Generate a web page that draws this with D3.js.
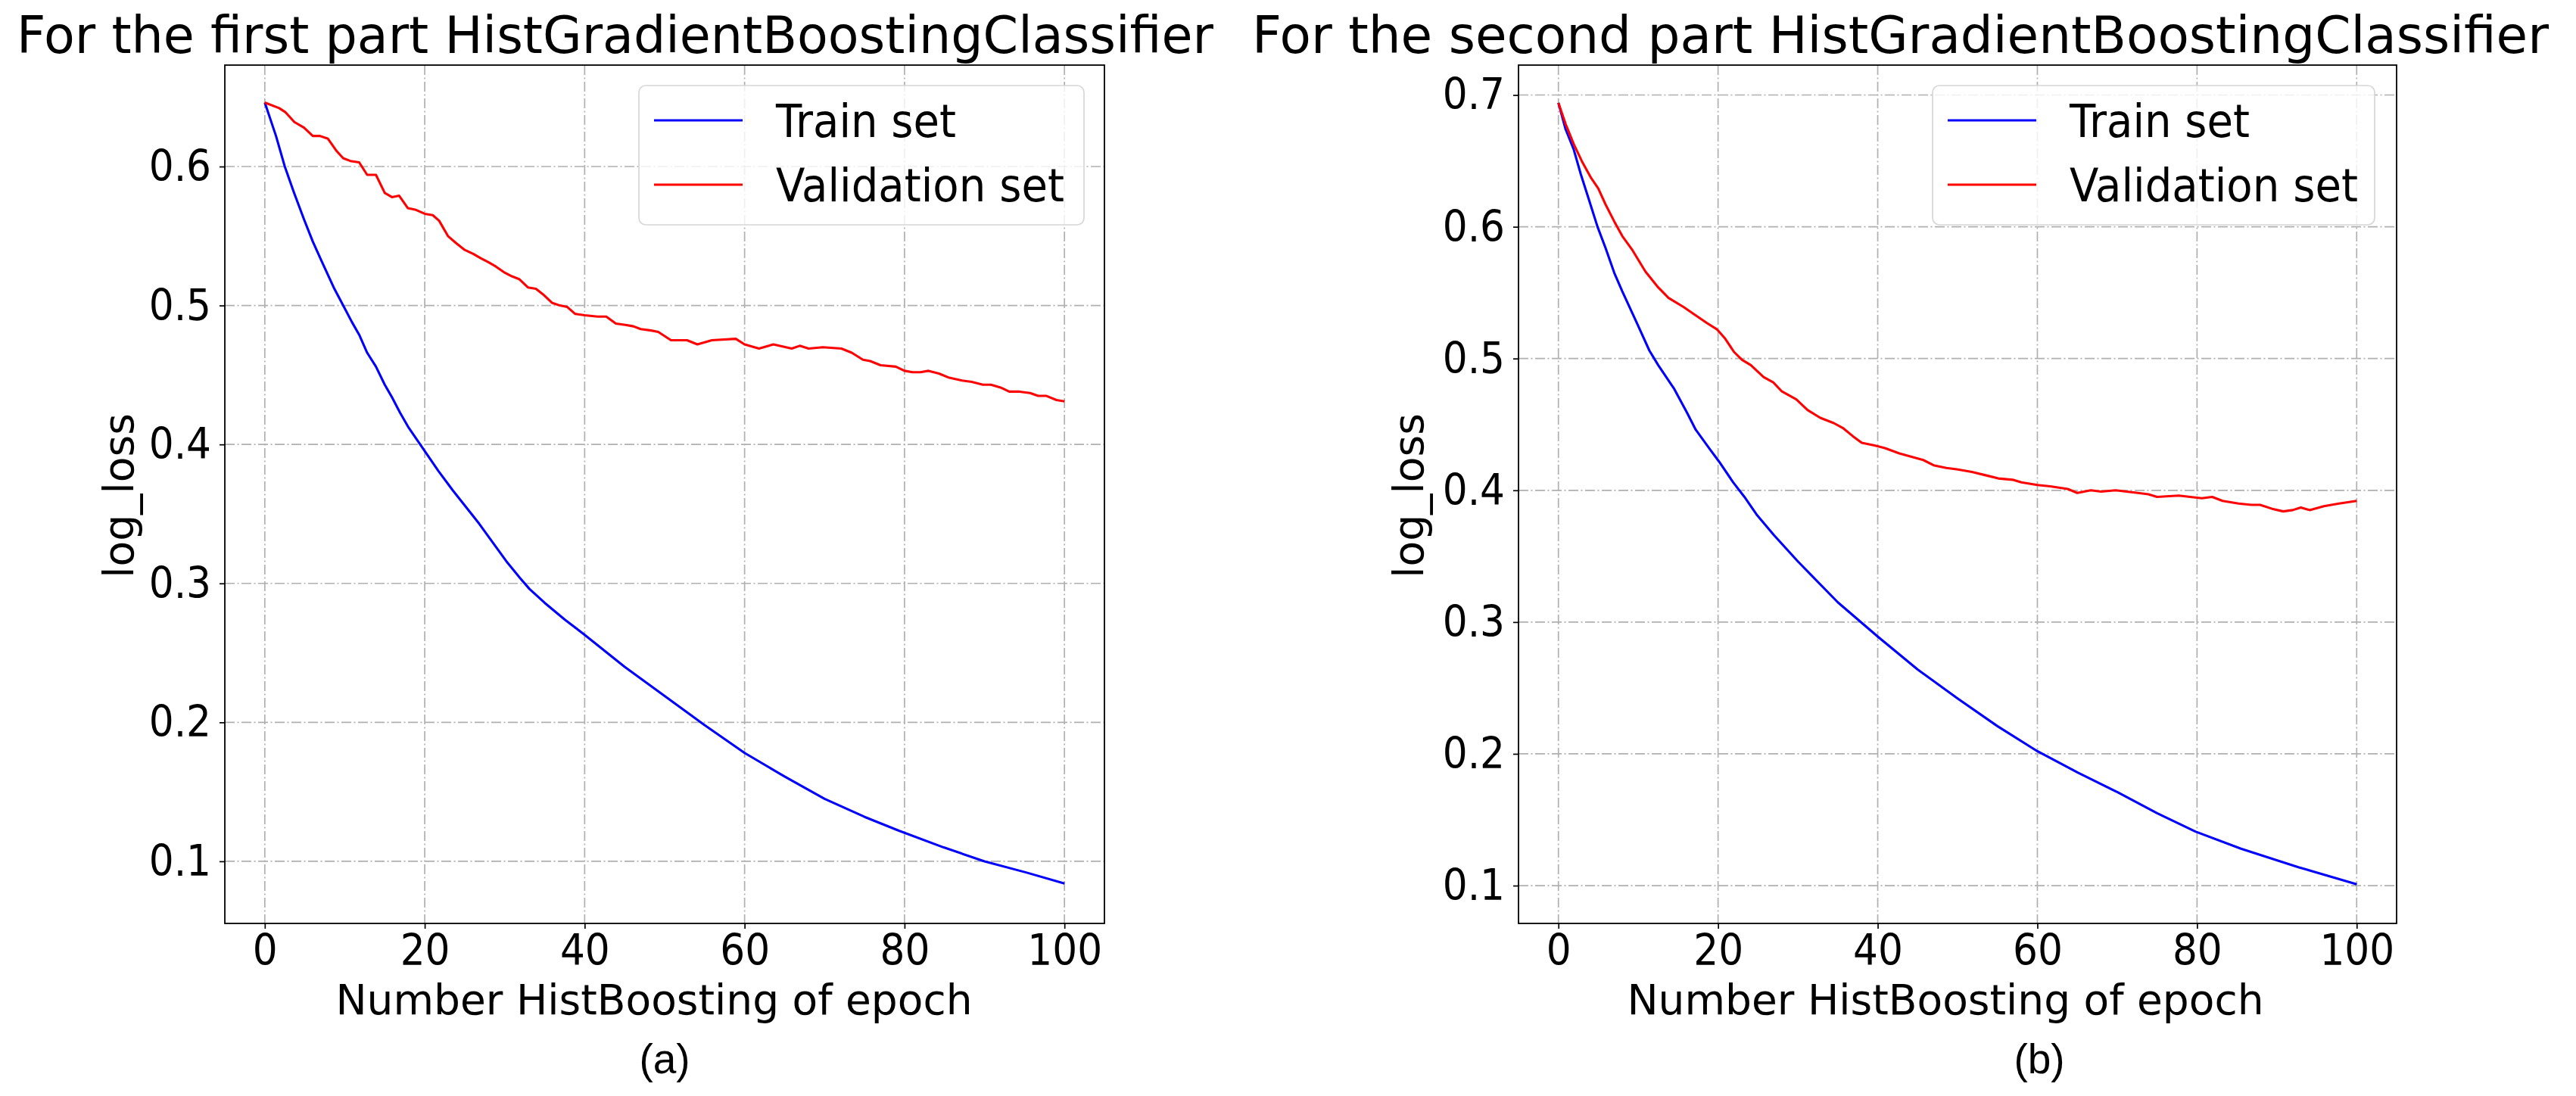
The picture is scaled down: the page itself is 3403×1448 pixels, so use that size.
<!DOCTYPE html>
<html>
<head>
<meta charset="utf-8">
<script src="https://cdn.jsdelivr.net/npm/d3@7/dist/d3.min.js"></script>
<style>
  body { margin: 0; background: #fff; }
  text { font-family: "DejaVu Sans", sans-serif; fill: #000; }
</style>
</head>
<body>
<script>
// ---- data ----
const epochTicks = [0, 20, 40, 60, 80, 100];
const firstLossTicks = [0.1, 0.2, 0.3, 0.4, 0.5, 0.6];
const secondLossTicks = [0.1, 0.2, 0.3, 0.4, 0.5, 0.6, 0.7];
const seriesNames = ["Train set", "Validation set"];
const panelTitles = ["For the first part HistGradientBoostingClassifier",
                     "For the second part HistGradientBoostingClassifier"];
const panelTags = ["(a)", "(b)"];
const xLabel = "Number HistBoosting of epoch";
const yLabel = "log_loss";

const firstTrainEpoch = [0, 1.4, 2.5, 3.6, 4.9, 6, 7.1, 8.7, 9.9, 10.9, 11.8, 12.8, 13.9, 15, 15.9, 16.9, 18, 19.2, 20.5,
  21.7, 23.5, 26.8, 30.2, 31.9, 33.1, 35, 37.5, 40, 45, 50, 55, 60, 65, 70, 75, 79.3, 84.9, 90, 95.2, 100];
const firstTrainLoss = [0.646, 0.622, 0.600, 0.582, 0.562, 0.546, 0.532, 0.512, 0.499, 0.488, 0.479, 0.466, 0.456, 0.443, 0.434, 0.423, 0.412, 0.402, 0.391,
  0.381, 0.367, 0.343, 0.316, 0.304, 0.296, 0.286, 0.274, 0.263, 0.240, 0.219, 0.198, 0.178, 0.161, 0.145, 0.132, 0.122, 0.110, 0.100, 0.092, 0.084];

const firstValEpoch = [0, 1.8, 2.6, 3.7, 4.9, 6, 6.9, 7.9, 9, 9.8, 10.7, 11.8, 12.8, 13.9, 15, 15.9, 16.8, 17.9, 18.8, 20,
  21, 21.8, 22.9, 23.9, 25, 26.1, 27, 28, 28.9, 29.9, 30.9, 31.8, 32.9, 33.9, 34.8, 35.9, 36.9, 37.8, 38.8, 40,
  41.6, 42.7, 43.9, 45.1, 46.1, 47, 48.3, 49.2, 50.8, 52.8, 54.1, 55.9, 58.9, 60, 61.8, 63.6, 65.9, 66.9, 68, 69.8,
  72.1, 73.4, 74.8, 75.7, 77, 78.9, 80, 81, 82, 83, 84.3, 85.6, 87.2, 88.4, 89.8, 90.8, 92, 93.1, 94.4, 95.7,
  96.7, 97.7, 99, 100];
const firstValLoss = [0.646, 0.642, 0.639, 0.632, 0.628, 0.622, 0.622, 0.620, 0.611, 0.606, 0.604, 0.603, 0.594, 0.594, 0.581, 0.578, 0.579, 0.570, 0.569, 0.566,
  0.565, 0.561, 0.550, 0.545, 0.540, 0.537, 0.534, 0.531, 0.528, 0.524, 0.521, 0.519, 0.513, 0.512, 0.508, 0.502, 0.500, 0.499, 0.494, 0.493,
  0.492, 0.492, 0.487, 0.486, 0.485, 0.483, 0.482, 0.481, 0.475, 0.475, 0.472, 0.475, 0.476, 0.472, 0.469, 0.472, 0.469, 0.471, 0.469, 0.470,
  0.469, 0.466, 0.461, 0.460, 0.457, 0.456, 0.453, 0.452, 0.452, 0.453, 0.451, 0.448, 0.446, 0.445, 0.443, 0.443, 0.441, 0.438, 0.438, 0.437,
  0.435, 0.435, 0.432, 0.431];

const secondTrainEpoch = [0, 0.9, 1.9, 2.8, 3.8, 4.9, 5.9, 7, 8, 9.9, 11.4, 12.5, 14.5, 16.1, 17.2, 19, 20.1, 21.9, 23.3, 24.9,
  27, 30, 35, 40, 45, 50, 55, 60, 65, 70, 75, 79.8, 85.5, 92.7, 100];
const secondTrainLoss = [0.694, 0.674, 0.659, 0.640, 0.621, 0.600, 0.584, 0.565, 0.551, 0.526, 0.506, 0.495, 0.477, 0.459, 0.446, 0.431, 0.422, 0.406, 0.395, 0.381,
  0.366, 0.346, 0.315, 0.289, 0.264, 0.242, 0.221, 0.202, 0.186, 0.171, 0.155, 0.141, 0.128, 0.114, 0.101];

const secondValEpoch = [0, 0.9, 1.9, 3, 4.1, 5, 5.9, 7, 8, 9.3, 10.9, 12.5, 13.8, 15.7, 16.9, 18.6, 19.9, 20.9, 22, 23,
  24.1, 25.7, 26.9, 28, 29.8, 31.2, 32.8, 34.5, 35.7, 36.9, 38, 39.6, 40.9, 42.7, 44.5, 45.7, 47, 48.6, 49.9, 51.8,
  53.8, 55.1, 56.9, 58, 60, 61.6, 63.8, 65, 66.7, 68, 69.8, 72.6, 73.9, 75, 77.7, 80.6, 81.9, 83.2, 85.2, 86.8,
  87.9, 89.4, 90.8, 92, 93, 94.1, 95.9, 97.8, 100];
const secondValLoss = [0.694, 0.678, 0.663, 0.649, 0.637, 0.629, 0.617, 0.604, 0.593, 0.582, 0.566, 0.554, 0.546, 0.539, 0.534, 0.527, 0.522, 0.515, 0.505, 0.499,
  0.495, 0.486, 0.482, 0.475, 0.469, 0.461, 0.455, 0.451, 0.447, 0.441, 0.436, 0.434, 0.432, 0.428, 0.425, 0.423, 0.419, 0.417, 0.416, 0.414,
  0.411, 0.409, 0.408, 0.406, 0.404, 0.403, 0.401, 0.398, 0.400, 0.399, 0.400, 0.398, 0.397, 0.395, 0.396, 0.394, 0.395, 0.392, 0.390, 0.389,
  0.389, 0.386, 0.384, 0.385, 0.387, 0.385, 0.388, 0.390, 0.392];

const W = 3403, H = 1448;
const svg = d3.select("body").append("svg")
  .attr("width", W).attr("height", H)
  .style("display", "block");

// squeeze a text element horizontally (the source figure is slightly narrowed)
function squeeze(sel, k) {
  sel.each(function () {
    const w = this.getComputedTextLength();
    d3.select(this).attr("textLength", w * k).attr("lengthAdjust", "spacingAndGlyphs");
  });
}

function drawPanel(p) {
  const x = d3.scaleLinear().domain([-5, 105]).range([p.left, p.right]);
  const y = d3.scaleLinear().domain(p.yDomain).range([p.bottom, p.top]);
  const g = svg.append("g");

  // grid
  const grid = g.append("g")
    .attr("stroke", "#b0b0b0").attr("stroke-width", 1.7)
    .attr("stroke-dasharray", "13,3.5,2,3.5").attr("fill", "none");
  grid.selectAll(".gx").data(epochTicks).enter().append("line")
    .attr("x1", d => x(d)).attr("x2", d => x(d))
    .attr("y1", p.top).attr("y2", p.bottom);
  grid.selectAll(".gy").data(p.yTicks).enter().append("line")
    .attr("x1", p.left).attr("x2", p.right)
    .attr("y1", d => y(d)).attr("y2", d => y(d));

  // curves
  const line = d3.line().x(d => x(d[0])).y(d => y(d[1]));
  const train = d3.zip(p.trainEpoch, p.trainLoss);
  const val = d3.zip(p.valEpoch, p.valLoss);
  g.append("path").datum(train).attr("d", line)
    .attr("fill", "none").attr("stroke", "#0000ff").attr("stroke-width", 3.1)
    .attr("stroke-linejoin", "round");
  g.append("path").datum(val).attr("d", line)
    .attr("fill", "none").attr("stroke", "#ff0000").attr("stroke-width", 3.1)
    .attr("stroke-linejoin", "round");

  // axes
  const xAxis = g.append("g").attr("transform", `translate(0,${p.bottom})`)
    .call(d3.axisBottom(x).tickValues(epochTicks).tickSize(7).tickPadding(7).tickFormat(d3.format("d")));
  const yAxis = g.append("g").attr("transform", `translate(${p.left},0)`)
    .call(d3.axisLeft(y).tickValues(p.yTicks).tickSize(7).tickPadding(11).tickFormat(d3.format(".1f")));
  [xAxis, yAxis].forEach(a => {
    a.select(".domain").remove();
    a.selectAll(".tick line").attr("stroke", "#000").attr("stroke-width", 1.7);
    a.selectAll(".tick text").attr("font-size", 57.5).attr("font-family", "DejaVu Sans").attr("fill", "#000");
    squeeze(a.selectAll(".tick text"), 0.9);
  });

  // frame
  g.append("rect").attr("x", p.left).attr("y", p.top)
    .attr("width", p.right - p.left).attr("height", p.bottom - p.top)
    .attr("fill", "none").attr("stroke", "#000").attr("stroke-width", 1.8);

  // legend
  const lg = g.append("g").attr("transform", `translate(${p.legendX},113)`);
  lg.append("rect").attr("x", 0).attr("y", 0).attr("width", p.legendW).attr("height", 184)
    .attr("rx", 9).attr("fill", "#fff").attr("fill-opacity", 0.8)
    .attr("stroke", "#d6d6d6").attr("stroke-width", 1.7);
  const colors = ["#0000ff", "#ff0000"];
  const widths = [238, 381];
  seriesNames.forEach((name, i) => {
    const yy = 46 + i * 85;
    lg.append("line").attr("x1", 20).attr("x2", 137).attr("y1", yy).attr("y2", yy)
      .attr("stroke", colors[i]).attr("stroke-width", 3.1);
    lg.append("text").attr("x", 181).attr("y", yy + 22).attr("font-size", 60)
      .attr("textLength", widths[i]).attr("lengthAdjust", "spacingAndGlyphs").text(name);
  });

  // titles and labels
  svg.append("text").attr("x", p.titleX).attr("y", 70).attr("font-size", 67)
    .attr("textLength", p.titleW).attr("lengthAdjust", "spacingAndGlyphs").text(p.title);
  svg.append("text").attr("x", p.xLabelX).attr("y", 1340).attr("font-size", 55)
    .attr("text-anchor", "middle").text(xLabel);
  svg.append("text").attr("transform", `translate(${p.yLabelX},${(p.top + p.bottom) / 2 + 2}) rotate(-90)`)
    .attr("font-size", 55).attr("text-anchor", "middle").text(yLabel);
  svg.append("text").attr("x", p.tagX).attr("y", 1418).attr("font-size", 55)
    .attr("text-anchor", "middle").style("font-family", "'Liberation Sans', Arial, sans-serif")
    .text(p.tag);
}

drawPanel({
  left: 297, right: 1459, top: 86, bottom: 1220,
  yDomain: [0.0553, 0.673], yTicks: firstLossTicks,
  trainEpoch: firstTrainEpoch, trainLoss: firstTrainLoss,
  valEpoch: firstValEpoch, valLoss: firstValLoss,
  legendX: 844, legendW: 588,
  title: panelTitles[0], titleX: 22, titleW: 1581,
  xLabelX: 864, yLabelX: 176, tag: panelTags[0], tagX: 878
});

drawPanel({
  left: 2006, right: 3166, top: 86, bottom: 1220,
  yDomain: [0.0713, 0.7227], yTicks: secondLossTicks,
  trainEpoch: secondTrainEpoch, trainLoss: secondTrainLoss,
  valEpoch: secondValEpoch, valLoss: secondValLoss,
  legendX: 2553, legendW: 584,
  title: panelTitles[1], titleX: 1654, titleW: 1713,
  xLabelX: 2570, yLabelX: 1880, tag: panelTags[1], tagX: 2694
});
</script>
</body>
</html>
